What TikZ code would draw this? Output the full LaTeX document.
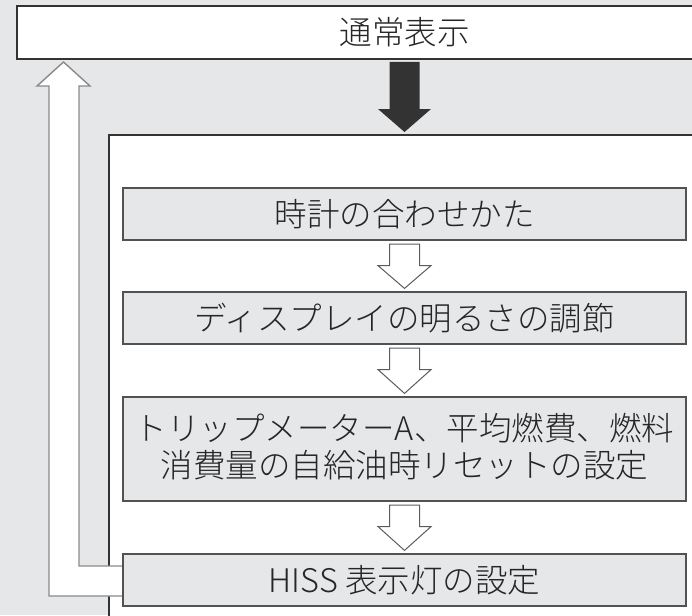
\documentclass[tikz,border=0pt]{standalone}
\usepackage{fontspec}
\IfFontExistsTF{Noto Sans CJK JP Light}
  {\newfontfamily\jpfont{Noto Sans CJK JP Light}}
  {\newfontfamily\jpfont{Noto Sans CJK JP}}
\usepackage{tikz}
\usetikzlibrary{calc}
\definecolor{bggray}{HTML}{E6E7E8}
\definecolor{linedark}{HTML}{333333}
\definecolor{linegray}{HTML}{8A8A8A}

\tikzset{
  stepbox/.style={draw=linedark!85, line width=1.2pt, fill=bggray, text=black!85,
    minimum width=563pt, minimum height=52pt, inner sep=0pt, align=center,
    font=\jpfont\fontsize{32.5}{40}\selectfont},
  hollow/.style={draw=linedark!80, line width=1pt, fill=white, line join=miter},
}

% block arrow between two boxes
\newcommand{\hollowarrow}[2]{%
  \draw[hollow] ($(#1.south)+(-15,3.5)$) -- ($(#1.south)+(15,3.5)$)
    -- ($(#1.south)+(15,25)$) -- ($(#1.south)+(26.5,25)$)
    -- ($(#2.north)+(0,-3)$) -- ($(#1.south)+(-26.5,25)$)
    -- ($(#1.south)+(-15,25)$) -- cycle;}

\begin{document}
\begin{tikzpicture}[x=1pt,y=-1pt]
\useasboundingbox (0,0) rectangle (692,615);
\clip (0,0) rectangle (692,615);
\fill[bggray] (0,0) rectangle (692,615);

% top box
\node[draw=linedark, line width=2pt, fill=white, minimum width=775pt, minimum height=53pt,
  inner sep=0pt, text=black!85, font=\jpfont\fontsize{32.5}{40}\selectfont]
  (normal) at (404.5,32.5) {通常表示};

% white panel
\draw[linedark, line width=2pt, fill=white] (109,135) rectangle (720,640);
\coordinate (paneltop) at (404.5,135);

% dark arrow
\fill[linedark] ($(normal.south)+(-15,2)$) -- ($(normal.south)+(15,2)$)
  -- ($(normal.south)+(15,49)$) -- ($(normal.south)+(26.5,49)$)
  -- ($(paneltop)+(0,-3)$) -- ($(normal.south)+(-26.5,49)$)
  -- ($(normal.south)+(-15,49)$) -- cycle;

% setting steps
\node[stepbox] (clock) at (404.5,214) {時計の合わせかた};
\node[stepbox] (bright) at (404.5,318) {ディスプレイの明るさの調節};
\node[stepbox, minimum height=104pt] (reset) at (404.5,449)
  {\raisebox{8pt}{\shortstack{トリップメーターA、平均燃費、燃料\\[4pt]消費量の自給油時リセットの設定}}};
\node[stepbox] (hiss) at (404.5,580) {HISS 表示灯の設定};

\hollowarrow{clock}{bright}
\hollowarrow{bright}{reset}
\hollowarrow{reset}{hiss}

% return arrow
\fill[white] (63.5,62) -- (90,86) -- (79,86) -- (79,566)
  -- ($(hiss.west)+(-0.6,-14)$) -- ($(hiss.west)+(-0.6,16)$)
  -- (49,596) -- (49,86) -- (37,86) -- cycle;
\draw[linegray, line width=1.4pt, line join=miter] ($(hiss.west)+(-0.6,-14)$)
  -- (79,566) -- (79,86) -- (90,86) -- (63.5,62) -- (37,86) -- (49,86)
  -- (49,596) -- ($(hiss.west)+(-0.6,16)$);
\end{tikzpicture}
\end{document}
